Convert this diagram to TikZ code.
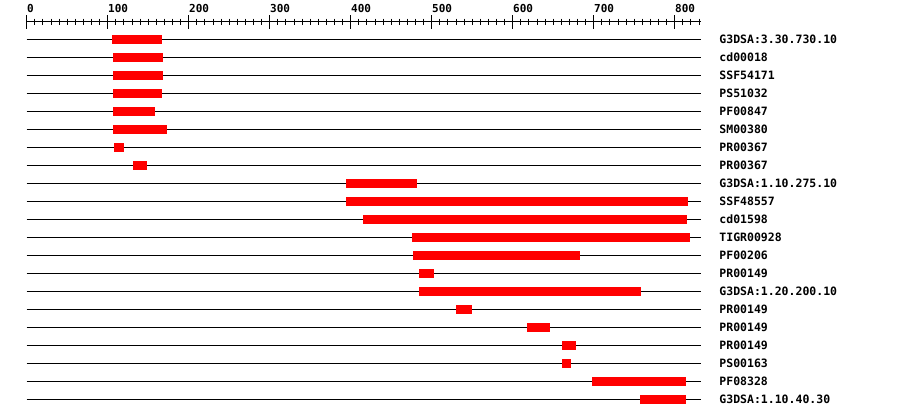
\documentclass[tikz,border=0pt]{standalone}
\usepackage{fontspec}
\setmonofont{DejaVu Sans Mono}
\usetikzlibrary{positioning}
\definecolor{domainred}{HTML}{FF0000}
\definecolor{linedark}{HTML}{000000}

\begin{document}
\begin{tikzpicture}[x=1pt, y=-1pt, line width=1pt, font=\ttfamily\bfseries]

    \useasboundingbox (0,0) rectangle (900,418);

    \begin{scope}[xshift=26.7pt, x=0.81pt]

    % Residue scale
    \draw[linedark] (0,21.5) -- (833,21.5);
    \foreach \tk in {0,10,...,830}
        \draw[linedark] (\tk,18.5) -- (\tk,24.5);
    \foreach \tk in {0,100,...,800} {
        \draw[linedark] (\tk,15) -- (\tk,28.5);
        \node[anchor=base west, inner sep=0, font=\fontsize{11}{13}\selectfont\ttfamily\bfseries]
            (tick\tk) at (\tk,12) {\tk};
    }

    % Domain rows
    \foreach \lab/\from/\to [count=\r] in {
        G3DSA:3.30.730.10/105/167, cd00018/107/168, SSF54171/107/168,
        PS51032/107/167, PF00847/107/158, SM00380/107/173,
        PR00367/108/120, PR00367/131/148, G3DSA:1.10.275.10/394/482,
        SSF48557/394/816, cd01598/415/815, TIGR00928/476/819,
        PF00206/477/683, PR00149/484/503, G3DSA:1.20.200.10/484/758,
        PR00149/530/550, PR00149/618/646, PR00149/661/678,
        PS00163/661/672, PF08328/698/814, G3DSA:1.10.40.30/757/814} {
        \pgfmathsetmacro\yy{39+18*(\r-1)}
        \draw[linedark] (0,\yy) coordinate (start\r) -- (833,\yy) coordinate (end\r);
        \fill[domainred] (\from,\yy-4) rectangle (\to,\yy+5);
        \node[right=17.5pt of end\r, inner sep=0, font=\fontsize{11.5}{13}\selectfont\ttfamily\bfseries]
            (lab\r) {\lab};
    }

    \end{scope}

\end{tikzpicture}
\end{document}
